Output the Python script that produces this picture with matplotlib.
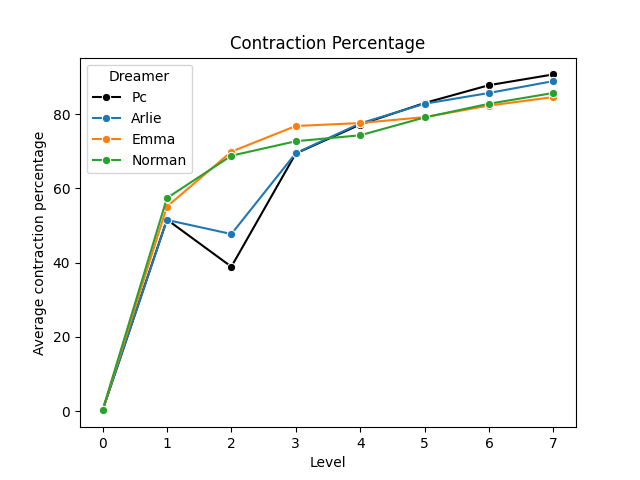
import pandas as pd
import seaborn as sns
import matplotlib
matplotlib.use('Agg')
import matplotlib.pyplot as plt

# 数据
levels = [0, 1, 2, 3, 4, 5, 6, 7]
pc = [0.2, 51.6, 38.9, 69.4, 77.2, 83.0, 87.8, 90.7]
arlie = [0.2, 51.5, 47.7, 69.5, 77.5, 82.8, 85.7, 88.9]
emma = [0.2, 55.1, 69.9, 76.8, 77.6, 79.2, 82.3, 84.6]
norman = [0.2, 57.4, 68.8, 72.7, 74.3, 79.1, 82.8, 85.7]

names = ['Pc', 'Arlie', 'Emma', 'Norman']
values = [pc, arlie, emma, norman]
rows = []
for name, vals in zip(names, values):
    for lv, v in zip(levels, vals):
        rows.append({'Level': lv, 'Average contraction percentage': v, 'Dreamer': name})
df = pd.DataFrame(rows)

palette = {'Pc': 'black', 'Arlie': '#1f77b4', 'Emma': '#ff7f0e', 'Norman': '#2ca02c'}

fig, ax = plt.subplots(figsize=(6.4, 4.8), dpi=100)
sns.lineplot(data=df, x='Level', y='Average contraction percentage', hue='Dreamer',
             palette=palette, marker='o', ax=ax)
ax.set_title('Contraction Percentage')
ax.legend(title='Dreamer', loc='upper left')

fig.savefig('out.png')
